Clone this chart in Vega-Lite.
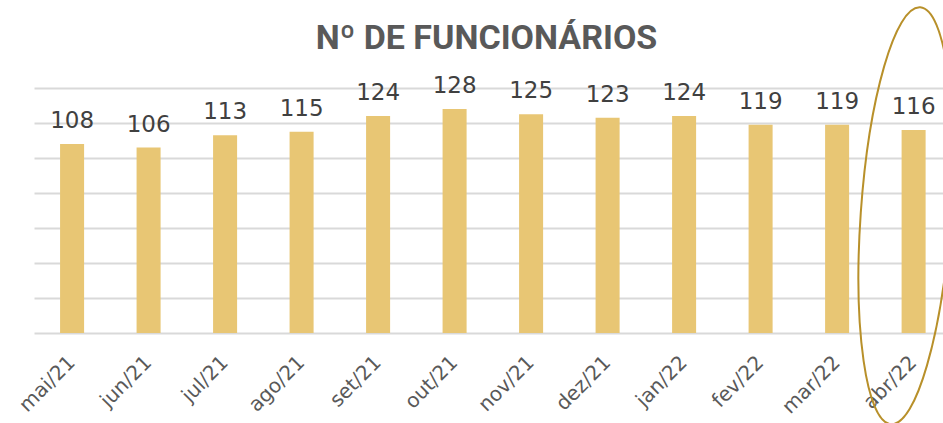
{
  "$schema": "https://vega.github.io/schema/vega-lite/v6.json",
  "autosize": {"type": "none"},
  "width": 909,
  "height": 245,
  "padding": {"left": 34, "top": 88, "right": 0, "bottom": 90},
  "background": "white",
  "title": {
    "text": "Nº DE FUNCIONÁRIOS",
    "font": "Roboto",
    "fontSize": 34,
    "fontWeight": "bold",
    "color": "#595959",
    "anchor": "middle",
    "baseline": "alphabetic",
    "offset": 0,
    "dy": 80,
    "dx": -2
  },
  "data": {
    "values": [
      {"month": "mai/21", "value": 108},
      {"month": "jun/21", "value": 106},
      {"month": "jul/21", "value": 113},
      {"month": "ago/21", "value": 115},
      {"month": "set/21", "value": 124},
      {"month": "out/21", "value": 128},
      {"month": "nov/21", "value": 125},
      {"month": "dez/21", "value": 123},
      {"month": "jan/22", "value": 124},
      {"month": "fev/22", "value": 119},
      {"month": "mar/22", "value": 119},
      {"month": "abr/22", "value": 116}
    ]
  },
  "encoding": {
    "x": {
      "field": "month",
      "type": "nominal",
      "sort": null,
      "scale": {"paddingInner": 0.686, "paddingOuter": 0.284, "align": 0.6},
      "axis": {
        "title": null,
        "labelAngle": -45,
        "labelAlign": "right",
        "labelBaseline": "middle",
        "labelPadding": 26,
        "labelFont": "DejaVu Sans",
        "labelFontSize": 20,
        "labelColor": "#595959",
        "labelOverlap": false,
        "domain": false,
        "ticks": false
      }
    },
    "y": {
      "field": "value",
      "type": "quantitative",
      "scale": {"domain": [0, 140], "nice": false},
      "axis": {
        "title": null,
        "values": [0, 20, 40, 60, 80, 100, 120, 140],
        "labels": false,
        "ticks": false,
        "domain": false,
        "grid": true,
        "gridColor": "#D9D9D9",
        "gridWidth": 2
      }
    }
  },
  "layer": [
    {
      "mark": {"type": "bar", "color": "#E8C674"}
    },
    {
      "mark": {
        "type": "text",
        "font": "DejaVu Sans",
        "fontSize": 23,
        "color": "#404040",
        "baseline": "alphabetic",
        "dy": -16
      },
      "encoding": {
        "text": {"field": "value", "type": "quantitative"}
      }
    },
    {
      "transform": [{"filter": "datum.month == 'abr/22'"}],
      "mark": {
        "type": "point",
        "shape": "M0,-1 C0.1187,-1 0.215,-0.5523 0.215,0 C0.215,0.5523 0.1187,1 0,1 C-0.1187,1 -0.215,0.5523 -0.215,0 C-0.215,-0.5523 -0.1187,-1 0,-1 Z",
        "filled": false,
        "stroke": "#B8902A",
        "strokeWidth": 2,
        "opacity": 1,
        "size": 174724,
        "angle": 4,
        "xOffset": -8
      },
      "encoding": {
        "y": {"datum": 67, "type": "quantitative"}
      }
    }
  ],
  "config": {
    "view": {"stroke": null}
  }
}
